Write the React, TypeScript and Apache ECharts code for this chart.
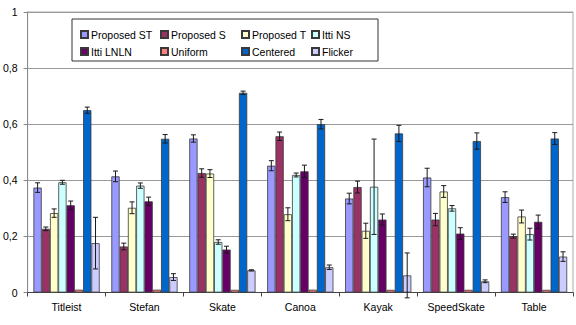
import { useEffect, useRef } from 'react';
import * as echarts from 'echarts';

// Sequences on the category axis
const categories = ['Titleist', 'Stefan', 'Skate', 'Canoa', 'Kayak', 'SpeedSkate', 'Table'];

// Method names, in bar order within each group
const seriesNames = [
  'Proposed ST',
  'Proposed S',
  'Proposed T',
  'Itti NS',
  'Itti LNLN',
  'Uniform',
  'Centered',
  'Flicker',
];

// Mean scores per sequence and their error (± half-range)
const proposedST = [0.374, 0.414, 0.549, 0.452, 0.335, 0.41, 0.34];
const proposedSTErr = [0.017, 0.019, 0.013, 0.018, 0.019, 0.033, 0.019];

const proposedS = [0.227, 0.164, 0.426, 0.557, 0.376, 0.26, 0.201];
const proposedSErr = [0.0065, 0.012, 0.015, 0.015, 0.021, 0.022, 0.007];

const proposedT = [0.283, 0.302, 0.424, 0.279, 0.22, 0.36, 0.271];
const proposedTErr = [0.015, 0.021, 0.014, 0.023, 0.027, 0.021, 0.023];

const ittiNS = [0.393, 0.381, 0.18, 0.419, 0.377, 0.3, 0.208];
const ittiNSErr = [0.007, 0.0095, 0.008, 0.007, 0.17, 0.01, 0.021];

const ittiLNLN = [0.311, 0.325, 0.153, 0.432, 0.26, 0.21, 0.252];
const ittiLNLNErr = [0.015, 0.015, 0.012, 0.022, 0.02, 0.021, 0.024];

const uniform = [0.01, 0.01, 0.0095, 0.01, 0.0095, 0.0095, 0.0095];
const uniformErr = [0, 0, 0, 0, 0, 0, 0];

const centered = [0.65, 0.548, 0.712, 0.6, 0.567, 0.54, 0.549];
const centeredErr = [0.011, 0.015, 0.006, 0.017, 0.029, 0.029, 0.021];

const flicker = [0.176, 0.055, 0.079, 0.09, 0.061, 0.04, 0.128];
const flickerErr = [0.092, 0.012, 0.002, 0.008, 0.08, 0.005, 0.017];

// Y axis tick labels (decimal comma)
const yTickLabels = ['0', '0,2', '0,4', '0,6', '0,8', '1'];

const seriesValues = [proposedST, proposedS, proposedT, ittiNS, ittiLNLN, uniform, centered, flicker];
const seriesErrors = [
  proposedSTErr,
  proposedSErr,
  proposedTErr,
  ittiNSErr,
  ittiLNLNErr,
  uniformErr,
  centeredErr,
  flickerErr,
];

const COLORS = ['#9999FF', '#993366', '#FFFFCC', '#CCFFFF', '#660066', '#FF8080', '#0066CC', '#CCCCFF'];
const FONT = '"Liberation Sans", Arial, sans-serif';
const CATEGORY_GAP = 0.15;
const N = seriesNames.length;

// Legend columns: left positions, each column holding a top-row and bottom-row entry
const LEGEND_COLUMN_LEFT = [75, 155, 236, 306];

export default function App() {
  const ref = useRef<HTMLDivElement>(null);

  useEffect(() => {
    if (!ref.current) return;
    const chart = echarts.init(ref.current, undefined, { renderer: 'svg' });

    const barSeries = seriesNames.map((name, i) => ({
      name,
      type: 'bar',
      data: seriesValues[i],
      barGap: '0%',
      barCategoryGap: `${CATEGORY_GAP * 100}%`,
      itemStyle: { color: COLORS[i], borderColor: '#3a3a3a', borderWidth: 0.8 },
      emphasis: { disabled: true },
    }));

    const errorData: number[][] = [];
    seriesValues.forEach((vals, s) => {
      vals.forEach((v, c) => {
        const e = seriesErrors[s][c];
        if (e > 0) errorData.push([c, s, v, e]);
      });
    });

    const errorSeries = {
      type: 'custom',
      name: 'errors',
      data: errorData,
      encode: { x: 0, y: 2 },
      z: 10,
      clip: false,
      silent: true,
      renderItem: (_params: any, api: any) => {
        const cat = api.value(0);
        const s = api.value(1);
        const v = api.value(2);
        const e = api.value(3);
        const band = api.size([1, 0])[0];
        const barW = (band * (1 - CATEGORY_GAP)) / N;
        const cx = api.coord([cat, 0])[0] + (s - (N - 1) / 2) * barW;
        const yTop = api.coord([cat, v + e])[1];
        const yBot = api.coord([cat, v - e])[1];
        const cap = 2.5;
        const style = { stroke: '#1a1a1a', lineWidth: 1 };
        return {
          type: 'group',
          children: [
            { type: 'line', shape: { x1: cx, y1: yTop, x2: cx, y2: yBot }, style },
            { type: 'line', shape: { x1: cx - cap, y1: yTop, x2: cx + cap, y2: yTop }, style },
            { type: 'line', shape: { x1: cx - cap, y1: yBot, x2: cx + cap, y2: yBot }, style },
          ],
        };
      },
    };

    const legends = LEGEND_COLUMN_LEFT.map((left, col) => ({
      orient: 'vertical',
      left,
      top: 24,
      itemGap: 6,
      itemWidth: 7,
      itemHeight: 7,
      icon: 'rect',
      selectedMode: false,
      data: [seriesNames[col], seriesNames[col + 4]],
      textStyle: { fontFamily: FONT, fontSize: 10.5, color: '#000', padding: [0, 0, 0, -2] },
    }));

    chart.setOption({
      animation: false,
      backgroundColor: '#fff',
      textStyle: { fontFamily: FONT },
      grid: {
        left: 25,
        right: 3,
        top: 12,
        bottom: 32.5,
        show: true,
        borderColor: '#aaa',
        borderWidth: 1,
        backgroundColor: '#fff',
      },
      legend: legends,
      graphic: [
        {
          type: 'rect',
          z: 3,
          shape: { x: 72, y: 19, width: 306, height: 42 },
          style: { fill: '#fff', stroke: '#333', lineWidth: 1 },
        },
      ],
      xAxis: {
        type: 'category',
        data: categories,
        axisLine: { lineStyle: { color: '#444', width: 1 } },
        axisTick: { show: true, length: 4, lineStyle: { color: '#444' } },
        axisLabel: { color: '#000', fontSize: 10.5, fontFamily: FONT, margin: 9 },
        splitLine: { show: false },
      },
      yAxis: {
        type: 'value',
        min: 0,
        max: 1,
        interval: 0.2,
        axisLine: { show: true, lineStyle: { color: '#888', width: 1 } },
        axisTick: { show: true, length: 4, lineStyle: { color: '#888' } },
        axisLabel: {
          color: '#000',
          fontSize: 10.5,
          fontFamily: FONT,
          margin: 10,
          formatter: (_v: number, idx: number) => yTickLabels[idx] ?? '',
        },
        splitLine: { show: true, lineStyle: { color: '#999', width: 1 } },
      },
      series: [...barSeries, errorSeries],
    });

    return () => chart.dispose();
  }, []);

  return (
    <div style={{ position: 'fixed', left: 0, top: 0, width: 576, height: 325, background: '#fff' }}>
      <div ref={ref} style={{ width: 576, height: 325 }} />
    </div>
  );
}
